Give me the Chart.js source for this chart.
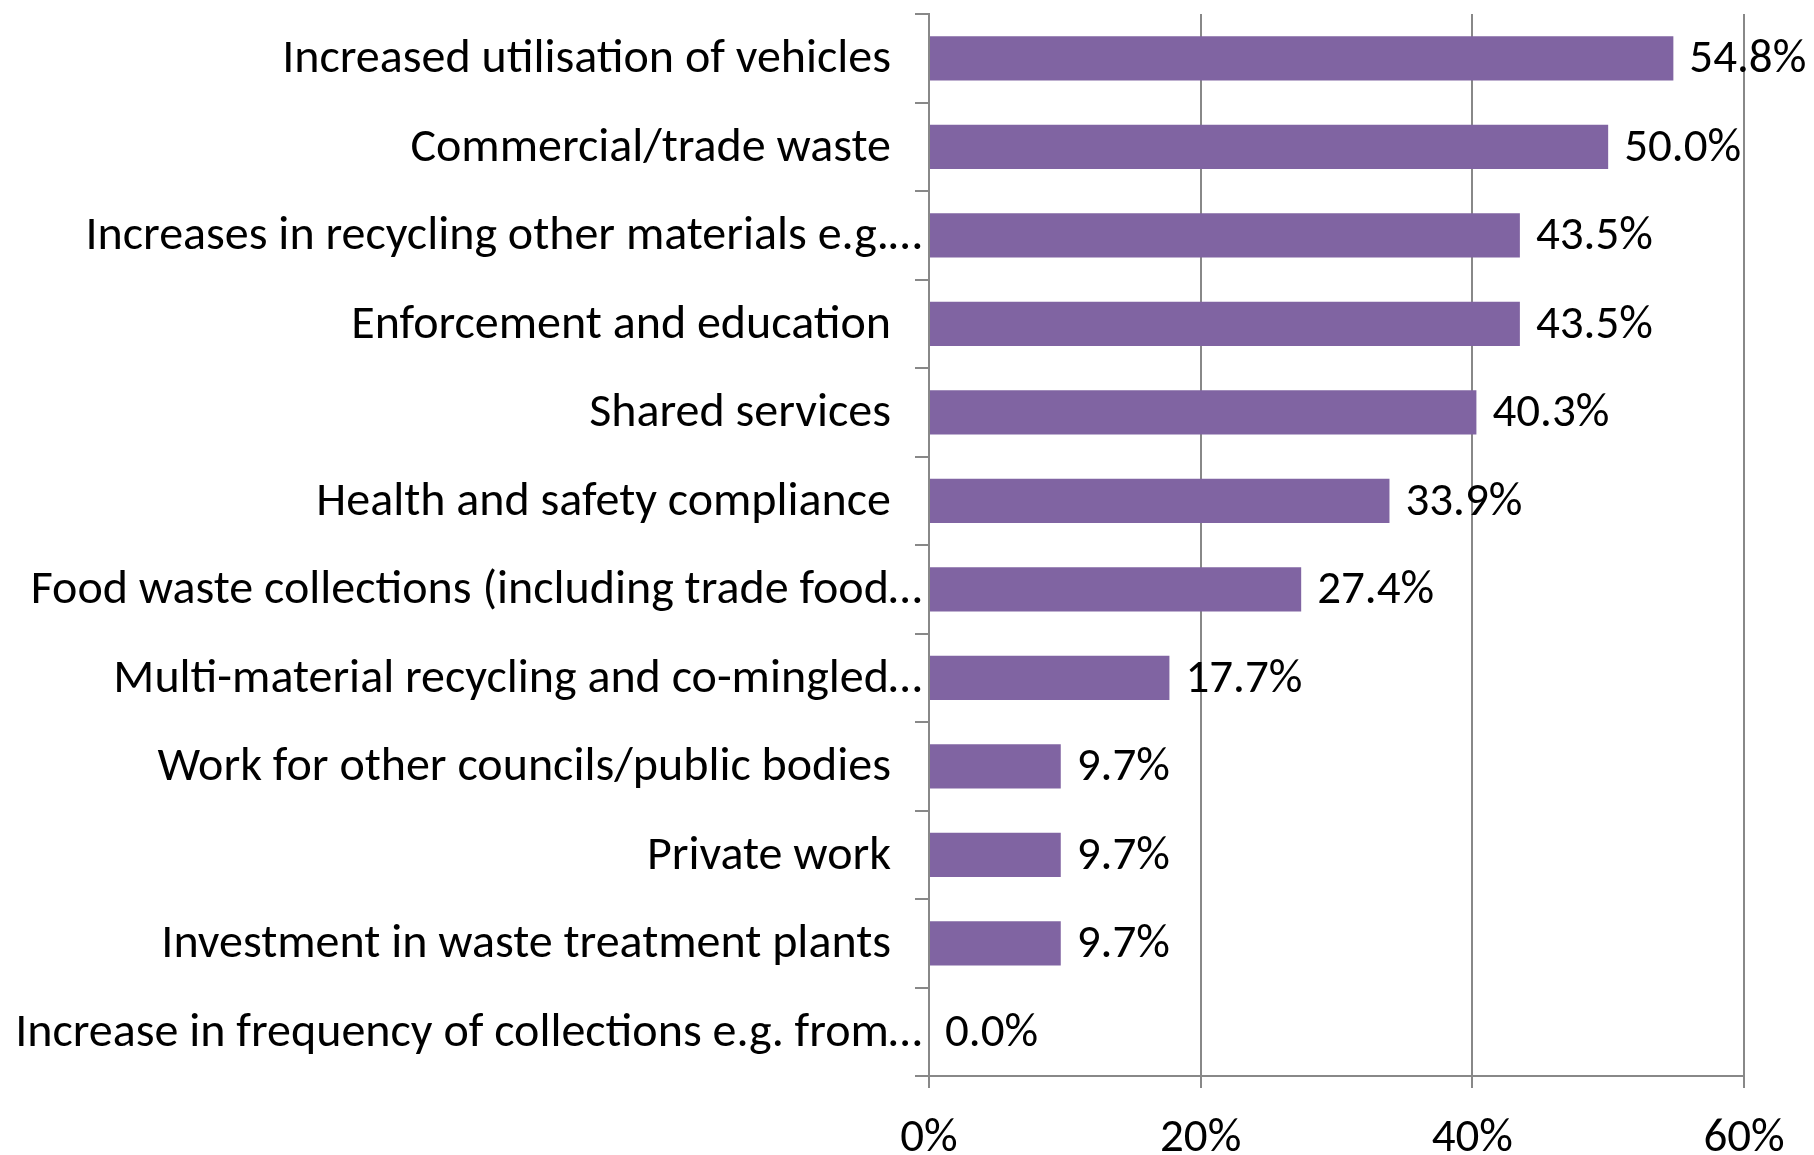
<!DOCTYPE html>
<html>
<head>
<meta charset="utf-8">
<title>Service areas</title>
<script src="https://cdn.jsdelivr.net/npm/chart.js@4/dist/chart.umd.min.js"></script>
<style>
  html, body { margin: 0; padding: 0; background: #fff; }
  #wrap { width: 1814px; height: 1155px; position: relative; }
</style>
</head>
<body>
<div id="wrap"><canvas id="barChart"></canvas></div>
<script>
// Chart data
const categories = [
  'Increased utilisation of vehicles',
  'Commercial/trade waste',
  'Increases in recycling other materials e.g.\u2026',
  'Enforcement and education',
  'Shared services',
  'Health and safety compliance',
  'Food waste collections (including trade food\u2026',
  'Multi-material recycling and co-mingled\u2026',
  'Work for other councils/public bodies',
  'Private work',
  'Investment in waste treatment plants',
  'Increase in frequency of collections e.g. from\u2026'
];
const percentValues = [54.8, 50.0, 43.5, 43.5, 40.3, 33.9, 27.4, 17.7, 9.7, 9.7, 9.7, 0.0];
const xTickValues = [0, 20, 40, 60];

const FONT = 'Carlito, Calibri, Lato, sans-serif';
const GRID = '#888888';

document.addEventListener('DOMContentLoaded', () => {
  initializeChart();
});

// Draws the "54.8%" style labels after each bar
const valueLabels = {
  id: 'valueLabels',
  afterDatasetsDraw(chart) {
    const ctx = chart.ctx;
    const meta = chart.getDatasetMeta(0);
    ctx.save();
    ctx.font = '47px ' + FONT;
    ctx.fillStyle = '#000';
    ctx.textAlign = 'left';
    ctx.textBaseline = 'middle';
    meta.data.forEach((bar, i) => {
      ctx.fillText(percentValues[i].toFixed(1) + '%', bar.x + 16, bar.y + 2);
    });
    ctx.restore();
  }
};

// Category labels: truncated ones (ending in an ellipsis) sit closer to the axis, like Excel does
const categoryLabels = {
  id: 'categoryLabels',
  afterDraw(chart) {
    const ctx = chart.ctx;
    const yScale = chart.scales.y;
    const axisX = chart.chartArea.left;
    ctx.save();
    ctx.font = '48px ' + FONT;
    ctx.fillStyle = '#000';
    ctx.textAlign = 'right';
    ctx.textBaseline = 'middle';
    categories.forEach((label, i) => {
      const truncated = label.endsWith('\u2026');
      const x = truncated ? axisX - 7 : axisX - 38;
      ctx.fillText(label, x, yScale.getPixelForTick(i) + 2);
    });
    ctx.restore();
  }
};

function initializeChart() {
  const ctx = document.getElementById('barChart');
  new Chart(ctx, {
    type: 'bar',
    data: {
      labels: categories,
      datasets: [{
        data: percentValues,
        backgroundColor: '#8064A2',
        borderWidth: 0,
        barPercentage: 0.5,
        categoryPercentage: 1.0
      }]
    },
    plugins: [valueLabels, categoryLabels],
    options: {
      indexAxis: 'y',
      responsive: true,
      maintainAspectRatio: false,
      animation: false,
      layout: {
        padding: { top: 14, right: 70, left: 0, bottom: 0 }
      },
      plugins: {
        legend: { display: false },
        tooltip: { enabled: false }
      },
      scales: {
        x: {
          min: 0,
          max: 60,
          afterBuildTicks: (scale) => {
            scale.ticks = xTickValues.map(v => ({ value: v }));
          },
          afterFit: (scale) => { scale.height = 79; },
          border: { color: GRID, width: 2 },
          grid: { color: GRID, lineWidth: 2, tickLength: 12 },
          ticks: {
            color: '#000',
            padding: 23,
            font: { family: FONT, size: 47 },
            callback: (v) => v + '%'
          }
        },
        y: {
          afterFit: (scale) => {
            scale.width = 929;
            scale.paddingTop = 0;
            scale.paddingBottom = 0;
          },
          border: { color: GRID, width: 2 },
          grid: { offset: true, drawOnChartArea: false, color: GRID, lineWidth: 2, tickLength: 14 },
          ticks: { display: false }
        }
      }
    }
  });
}
</script>
</body>
</html>
